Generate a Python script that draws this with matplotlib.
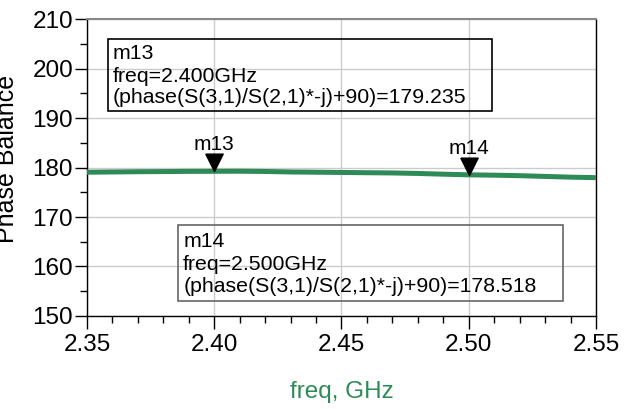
import numpy as np
import matplotlib
matplotlib.use('Agg')
import matplotlib.pyplot as plt
from matplotlib.patches import Rectangle

plt.rcParams['font.family'] = ['Liberation Sans', 'DejaVu Sans']

freq = [2.35, 2.36, 2.37, 2.38, 2.39, 2.40, 2.41, 2.42, 2.43, 2.44, 2.45,
        2.46, 2.47, 2.48, 2.49, 2.50, 2.51, 2.52, 2.53, 2.54, 2.55]
phaseBal = [179.05, 179.10, 179.15, 179.18, 179.22, 179.235, 179.25, 179.20,
            179.10, 179.05, 179.00, 178.95, 178.90, 178.80, 178.65, 178.518,
            178.45, 178.35, 178.20, 178.05, 177.95]
mkNames = ['m13', 'm14']
mkFreq = [2.400, 2.500]
mkVal = [179.235, 178.518]
expr = '(phase(S(3,1)/S(2,1)*-j)+90)'
xticks = [2.35, 2.40, 2.45, 2.50, 2.55]
yticks = [150, 160, 170, 180, 190, 200, 210]

fig = plt.figure(figsize=(6.3, 4.09), dpi=100)
ax = fig.add_axes([0.138, 0.2274, 0.808, 0.7261])

green = '#2e8b57'
ax.plot(freq, phaseBal, color=green, lw=3.6, solid_capstyle='butt', zorder=3)

# downward triangle with its tip on the data point
tri = [(-0.5, 1.0), (0.5, 1.0), (0.0, 0.0), (-0.5, 1.0)]
for name, f, v in zip(mkNames, mkFreq, mkVal):
    ax.plot([f], [v], marker=tri, markersize=25, color='black', zorder=5)
    ax.annotate(name, (f, v), xytext=(0, 21), textcoords='offset pixels',
                ha='center', va='baseline', fontsize=15, zorder=5)

ax.set_xlim(2.35, 2.55)
ax.set_ylim(150, 210)
ax.set_xticks(xticks)
ax.set_xticklabels(['%.2f' % x for x in xticks])
ax.set_yticks(yticks)
ax.set_xticks(np.arange(2.35, 2.5501, 0.01), minor=True)
ax.set_yticks(np.arange(150, 210.1, 5), minor=True)
ax.tick_params(axis='both', which='major', labelsize=17.5, direction='out',
               length=9, width=1, pad=1)
ax.tick_params(axis='x', which='major', pad=4)
ax.tick_params(axis='both', which='minor', direction='out', length=5, width=1)
ax.grid(True, which='major', color='#cccccc', lw=1)
ax.set_axisbelow(True)

ax.spines['top'].set_color('#888888')
ax.spines['top'].set_linewidth(1.5)
for s in ['left', 'bottom', 'right']:
    ax.spines[s].set_color('black')
    ax.spines[s].set_linewidth(1)

ax.set_xlabel('freq, GHz', color=green, fontsize=17.5, labelpad=18)
fig.text(19 / 630, 1 - 159 / 409, 'Phase Balance', rotation=90,
         ha='right', va='center', fontsize=18)

# marker readout boxes
boxes = [(0.0413, 0.690, 0.7544, 0.2427, 'black', 0.051, [0.865, 0.788, 0.717]),
         (0.1788, 0.0505, 0.7562, 0.2559, '#666666', 0.189, [0.232, 0.155, 0.081])]
for (x0, y0, w, h, ec, tx, ty), name, f, v in zip(boxes, mkNames, mkFreq, mkVal):
    ax.add_patch(Rectangle((x0, y0), w, h, transform=ax.transAxes, fill=True,
                           facecolor='none', edgecolor=ec, lw=1.2, zorder=4))
    lines = [name, 'freq=%.3fGHz' % f, '%s=%.3f' % (expr, v)]
    for t, yy in zip(lines, ty):
        ax.text(tx, yy, t, transform=ax.transAxes, fontsize=15.3,
                va='baseline', ha='left', zorder=4)

fig.savefig('out.png', dpi=100)
